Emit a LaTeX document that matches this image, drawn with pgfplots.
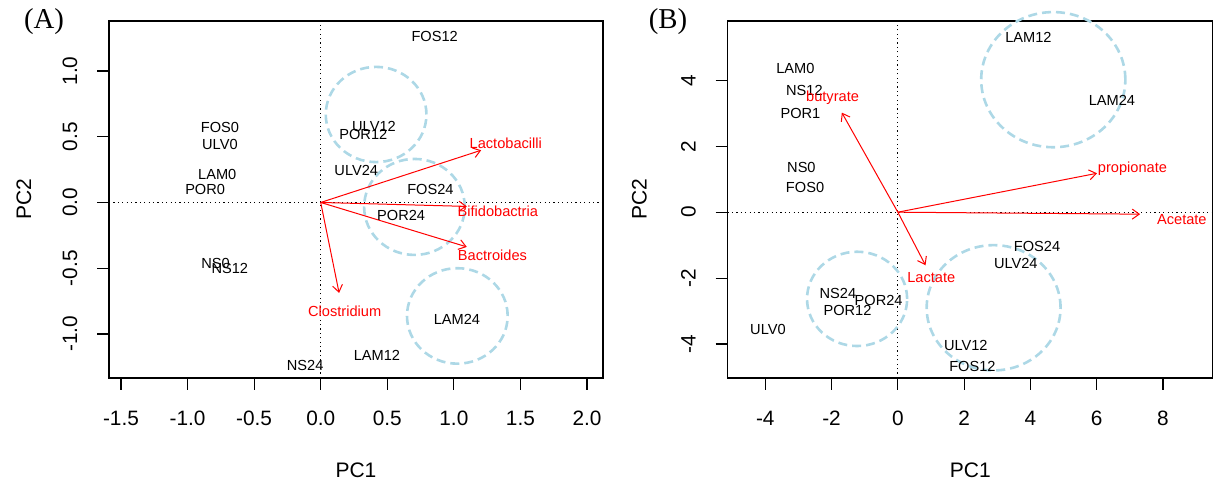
\documentclass[border=0pt]{standalone}
\usepackage{pgfplots}
\pgfplotsset{compat=1.18}
\usepackage{pgfplotstable}
\usepackage{fontspec}
\setmainfont{Liberation Sans}
\newfontfamily\timesfont{Liberation Serif}
\usetikzlibrary{arrows.meta}
\definecolor{circ}{HTML}{ADD8E6}

\pgfplotstableread{
label x y
FOS12 0.856 1.26
ULV12 0.40 0.58
POR12 0.32 0.517
FOS0 -0.757 0.573
ULV0 -0.757 0.44
LAM0 -0.777 0.211
POR0 -0.868 0.097
ULV24 0.267 0.242
FOS24 0.824 0.097
POR24 0.604 -0.10
NS0 -0.789 -0.459
NS12 -0.683 -0.497
LAM24 1.023 -0.886
LAM12 0.422 -1.162
NS24 -0.117 -1.241
}\sampA

\pgfplotstableread{
label x y u v lx ly
Lactobacilli 0 0 1.205 0.397 1.39 0.45
Bifidobactria 0 0 1.097 -0.03 1.33 -0.064
Bactroides 0 0 1.097 -0.338 1.29 -0.404
Clostridium 0 0 0.138 -0.688 0.18 -0.827
}\varA

\pgfplotstableread{
label x y
LAM12 3.94 5.32
LAM0 -3.09 4.36
NS12 -2.82 3.70
POR1 -2.94 3.00
LAM24 6.46 3.39
NS0 -2.91 1.36
FOS0 -2.80 0.77
FOS24 4.20 -1.03
ULV24 3.56 -1.55
NS24 -1.81 -2.45
POR24 -0.58 -2.66
POR12 -1.52 -2.98
ULV0 -3.92 -3.56
ULV12 2.05 -4.05
FOS12 2.25 -4.66
}\sampB

\pgfplotstableread{
label x y u v lx ly
butyrate 0 0 -1.69 3.02 -1.97 3.51
propionate 0 0 6.01 1.18 7.08 1.36
Acetate 0 0 7.31 -0.06 8.57 -0.21
Lactate 0 0 0.835 -1.61 1.01 -1.98
}\varB

\tikzset{cc/.style={circ, line width=1.3pt, dash pattern=on 4.5pt off 2.5pt}}

\pgfplotsset{
  rbase/.style={
    scale only axis, clip=false, disabledatascaling,
    anchor=south west,
    axis line style={line width=0.6pt},
    tick style={black, line width=0.6pt},
    tick align=outside, major tick length=6pt,
    xtick pos=left, ytick pos=left,
    ticklabel style={font=\fontsize{10.4}{12}\selectfont},
    /pgf/number format/assume math mode=true,
    xticklabel style={anchor=base},
    yticklabel style={rotate=90, anchor=base},
    xticklabel shift=18pt,
    yticklabel shift=10pt,
    label style={font=\fontsize{10.5}{12}\selectfont},
    xlabel={PC1}, ylabel={PC2},
    xlabel style={at={([yshift=-46pt]axis description cs:0.5,0)}, anchor=center},
    width=247pt, height=178.5pt,
  },
  samp/.style={draw=none, mark=none, nodes near coords, point meta=explicit symbolic,
    every node near coord/.append style={anchor=base, yshift=-2.6pt, inner sep=0pt,
      font=\fontsize{7.3}{8}\selectfont, text=black}},
  varlab/.style={draw=none, mark=none, nodes near coords, point meta=explicit symbolic,
    every node near coord/.append style={anchor=base, yshift=-2.6pt, inner sep=0pt,
      font=\fontsize{7.3}{8}\selectfont, text=red}},
  arr/.style={red, line width=0.5pt, quiver={u=\thisrow{u}, v=\thisrow{v}},
    -{Straight Barb[length=3.5pt, width=5pt, line width=0.5pt]}},
  zl/.style={black, line width=0.5pt, dash pattern=on 0.6pt off 1.6pt},
}

\begin{document}
\begin{tikzpicture}
\begin{axis}[rbase, at={(0pt,0pt)},
  xmin=-1.59, xmax=2.12, ymin=-1.335, ymax=1.38,
  xtick={-1.5,-1,-0.5,0,0.5,1,1.5,2}, ytick={-1,-0.5,0,0.5,1},
  x tick label style={/pgf/number format/.cd, fixed, fixed zerofill, precision=1, /tikz/.cd},
  y tick label style={/pgf/number format/.cd, fixed, fixed zerofill, precision=1, /tikz/.cd},
  ylabel style={at={([xshift=-42.5pt]axis description cs:0,0.5)}, anchor=center},
]
\addplot[zl] coordinates {(-1.59,0) (2.12,0)};
\addplot[zl] coordinates {(0,-1.335) (0,1.38)};
\draw[cc] (axis cs:0.416,0.669) ellipse [x radius=0.378, y radius=0.362];
\draw[cc] (axis cs:0.704,-0.034) ellipse [x radius=0.378, y radius=0.365];
\draw[cc] (axis cs:1.026,-0.863) ellipse [x radius=0.378, y radius=0.363];
\addplot[samp] table[x=x, y=y, meta=label] {\sampA};
\addplot[arr] table[x=x, y=y] {\varA};
\addplot[varlab] table[x=lx, y=ly, meta=label] {\varA};
\end{axis}
\node[font=\timesfont\fontsize{14.4}{16}\selectfont] at (-32.5pt,178pt) {(A)};

\begin{axis}[rbase, at={(309.25pt,0pt)}, width=242.75pt,
  xmin=-5.14, xmax=9.51, ymin=-5.03, ymax=5.80,
  xtick={-4,-2,0,2,4,6,8}, ytick={-4,-2,0,2,4},
  ylabel style={at={([xshift=-44pt]axis description cs:0,0.5)}, anchor=center},
]
\addplot[zl] coordinates {(-5.14,0) (9.51,0)};
\addplot[zl] coordinates {(0,-5.03) (0,5.80)};
\draw[cc] (axis cs:4.69,4.02) ellipse [x radius=2.175, y radius=2.05];
\draw[cc] (axis cs:-1.23,-2.63) ellipse [x radius=1.51, y radius=1.43];
\draw[cc] (axis cs:2.89,-2.90) ellipse [x radius=2.02, y radius=1.90];
\addplot[samp] table[x=x, y=y, meta=label] {\sampB};
\addplot[arr] table[x=x, y=y] {\varB};
\addplot[varlab] table[x=lx, y=ly, meta=label] {\varB};
\end{axis}
\node[font=\timesfont\fontsize{14.4}{16}\selectfont] at (279.5pt,178pt) {(B)};

\pgfresetboundingbox
\useasboundingbox (-54.5pt,-51.5pt) rectangle (552pt,189pt);
\end{tikzpicture}
\end{document}
